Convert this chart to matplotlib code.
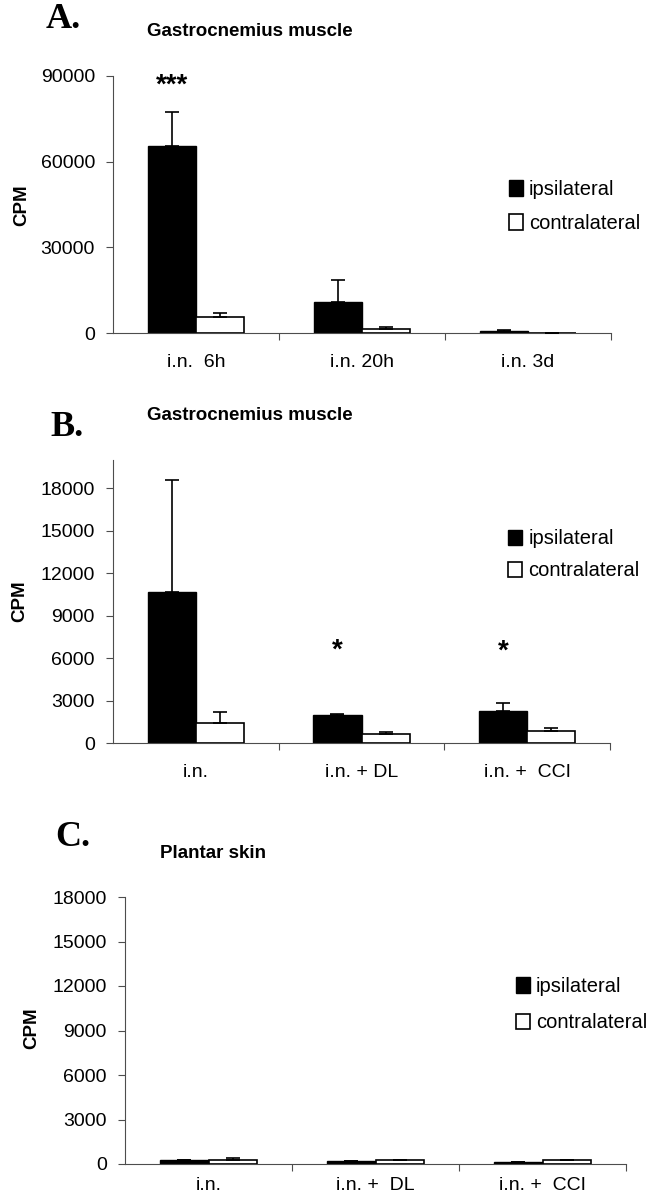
import numpy as np
import matplotlib
matplotlib.use('Agg')
import matplotlib.pyplot as plt
from matplotlib.patches import Patch

plt.rcParams['font.family'] = ['Liberation Sans', 'DejaVu Sans']

W, H = 657, 1199

# panel A - gastrocnemius muscle, time course
cats_a = ['i.n.  6h', 'i.n. 20h', 'i.n. 3d']
ipsi_a = [65500, 11000, 600]
ipsi_a_err = [11800, 7600, 300]
contra_a = [5600, 1500, 150]
contra_a_err = [1400, 500, 0]

# panel B - gastrocnemius muscle, lesions
cats_b = ['i.n.', 'i.n. + DL', 'i.n. +  CCI']
ipsi_b = [10700, 1980, 2270]
ipsi_b_err = [7900, 100, 530]
contra_b = [1430, 650, 880]
contra_b_err = [790, 110, 190]

# panel C - plantar skin
cats_c = ['i.n.', 'i.n. +  DL', 'i.n. +  CCI']
ipsi_c = [280, 210, 140]
ipsi_c_err = [20, 15, 10]
contra_c = [290, 240, 260]
contra_c_err = [130, 20, 20]

series_names = ['ipsilateral', 'contralateral']


def px_rect(left, top, right, bottom):
    return [left / W, 1 - bottom / H, (right - left) / W, (bottom - top) / H]


def draw_panel(ax, cats, ipsi, ipsi_err, contra, contra_err, ylim, ymax_tick, step,
               leg_xy, leg_space, xpad=15, stars=None):
    x = np.arange(len(cats))
    w = 0.29
    ax.bar(x - w / 2, ipsi, w, color='black', edgecolor='black', linewidth=1.0, zorder=2)
    ax.bar(x + w / 2, contra, w, color='white', edgecolor='black', linewidth=1.2, zorder=2)
    zeros = np.zeros(len(cats))
    ax.errorbar(x - w / 2, ipsi, yerr=[zeros, ipsi_err], fmt='none', ecolor='black',
                elinewidth=1.2, capsize=5, capthick=1.2, zorder=3)
    ax.errorbar(x + w / 2, contra, yerr=[zeros, contra_err], fmt='none', ecolor='black',
                elinewidth=1.2, capsize=5, capthick=1.2, zorder=3)

    ax.set_xlim(-0.5, len(cats) - 0.5)
    ax.set_ylim(0, ylim)
    ax.spines['top'].set_visible(False)
    ax.spines['right'].set_visible(False)
    for s in ['left', 'bottom']:
        ax.spines[s].set_linewidth(0.8)
        ax.spines[s].set_color('0.3')

    ax.set_yticks(np.arange(0, ymax_tick + 1, step))
    ax.tick_params(axis='y', direction='out', length=5, width=0.8, color='0.3',
                   pad=8, labelsize=14)
    ax.set_xticks(np.arange(0.5, len(cats)), labels=[])
    ax.tick_params(axis='x', which='major', direction='out', length=5, width=0.8, color='0.3')
    ax.set_xticks(x, labels=cats, minor=True)
    ax.tick_params(axis='x', which='minor', length=0, pad=xpad, labelsize=14)

    if stars:
        for xi, yv, s in stars:
            ax.text(x[xi] - w / 2, yv, s, ha='center', va='center', fontsize=20,
                    fontweight='bold')

    handles = [Patch(facecolor='black', edgecolor='black'),
               Patch(facecolor='white', edgecolor='black', linewidth=1.2)]
    ax.legend(handles, series_names, loc='upper left', bbox_to_anchor=leg_xy,
              frameon=False, fontsize=14.5, handlelength=0.7, handleheight=0.8,
              handletextpad=0.3, labelspacing=leg_space, borderpad=0, borderaxespad=0)


fig = plt.figure(figsize=(W / 100, H / 100), dpi=100)

ax_a = fig.add_axes(px_rect(113, 76, 611, 333))
draw_panel(ax_a, cats_a, ipsi_a, ipsi_a_err, contra_a, contra_a_err,
           90000, 90000, 30000, (0.795, 0.595), 0.75, stars=[(0, 86500, '***')])

ax_b = fig.add_axes(px_rect(113, 460, 610, 743))
draw_panel(ax_b, cats_b, ipsi_b, ipsi_b_err, contra_b, contra_b_err,
           20000, 18000, 3000, (0.795, 0.755), 0.65, stars=[(1, 6500, '*'), (2, 6450, '*')])

ax_c = fig.add_axes(px_rect(125, 897, 626, 1164))
draw_panel(ax_c, cats_c, ipsi_c, ipsi_c_err, contra_c, contra_c_err,
           18000, 18000, 3000, (0.78, 0.70), 0.85, xpad=9)

# y labels, panel letters and titles
for yc, xc in [(205, 22), (601, 20), (1028, 32)]:
    fig.text(xc / W, 1 - yc / H, 'CPM', rotation=90, ha='center', va='center',
             fontsize=13.5, fontweight='bold')

for letter, xl, yc in [('A.', 46, 20), ('B.', 50, 428), ('C.', 55, 838)]:
    fig.text(xl / W, 1 - yc / H, letter, ha='left', va='center', fontsize=26,
             fontweight='bold', family=['Liberation Serif', 'DejaVu Serif'])

for title, xl, yc in [('Gastrocnemius muscle', 147, 32),
                      ('Gastrocnemius muscle', 147, 416),
                      ('Plantar skin', 160, 853)]:
    fig.text(xl / W, 1 - yc / H, title, ha='left', va='center', fontsize=13.5,
             fontweight='bold')

fig.savefig('out.png', dpi=100)
